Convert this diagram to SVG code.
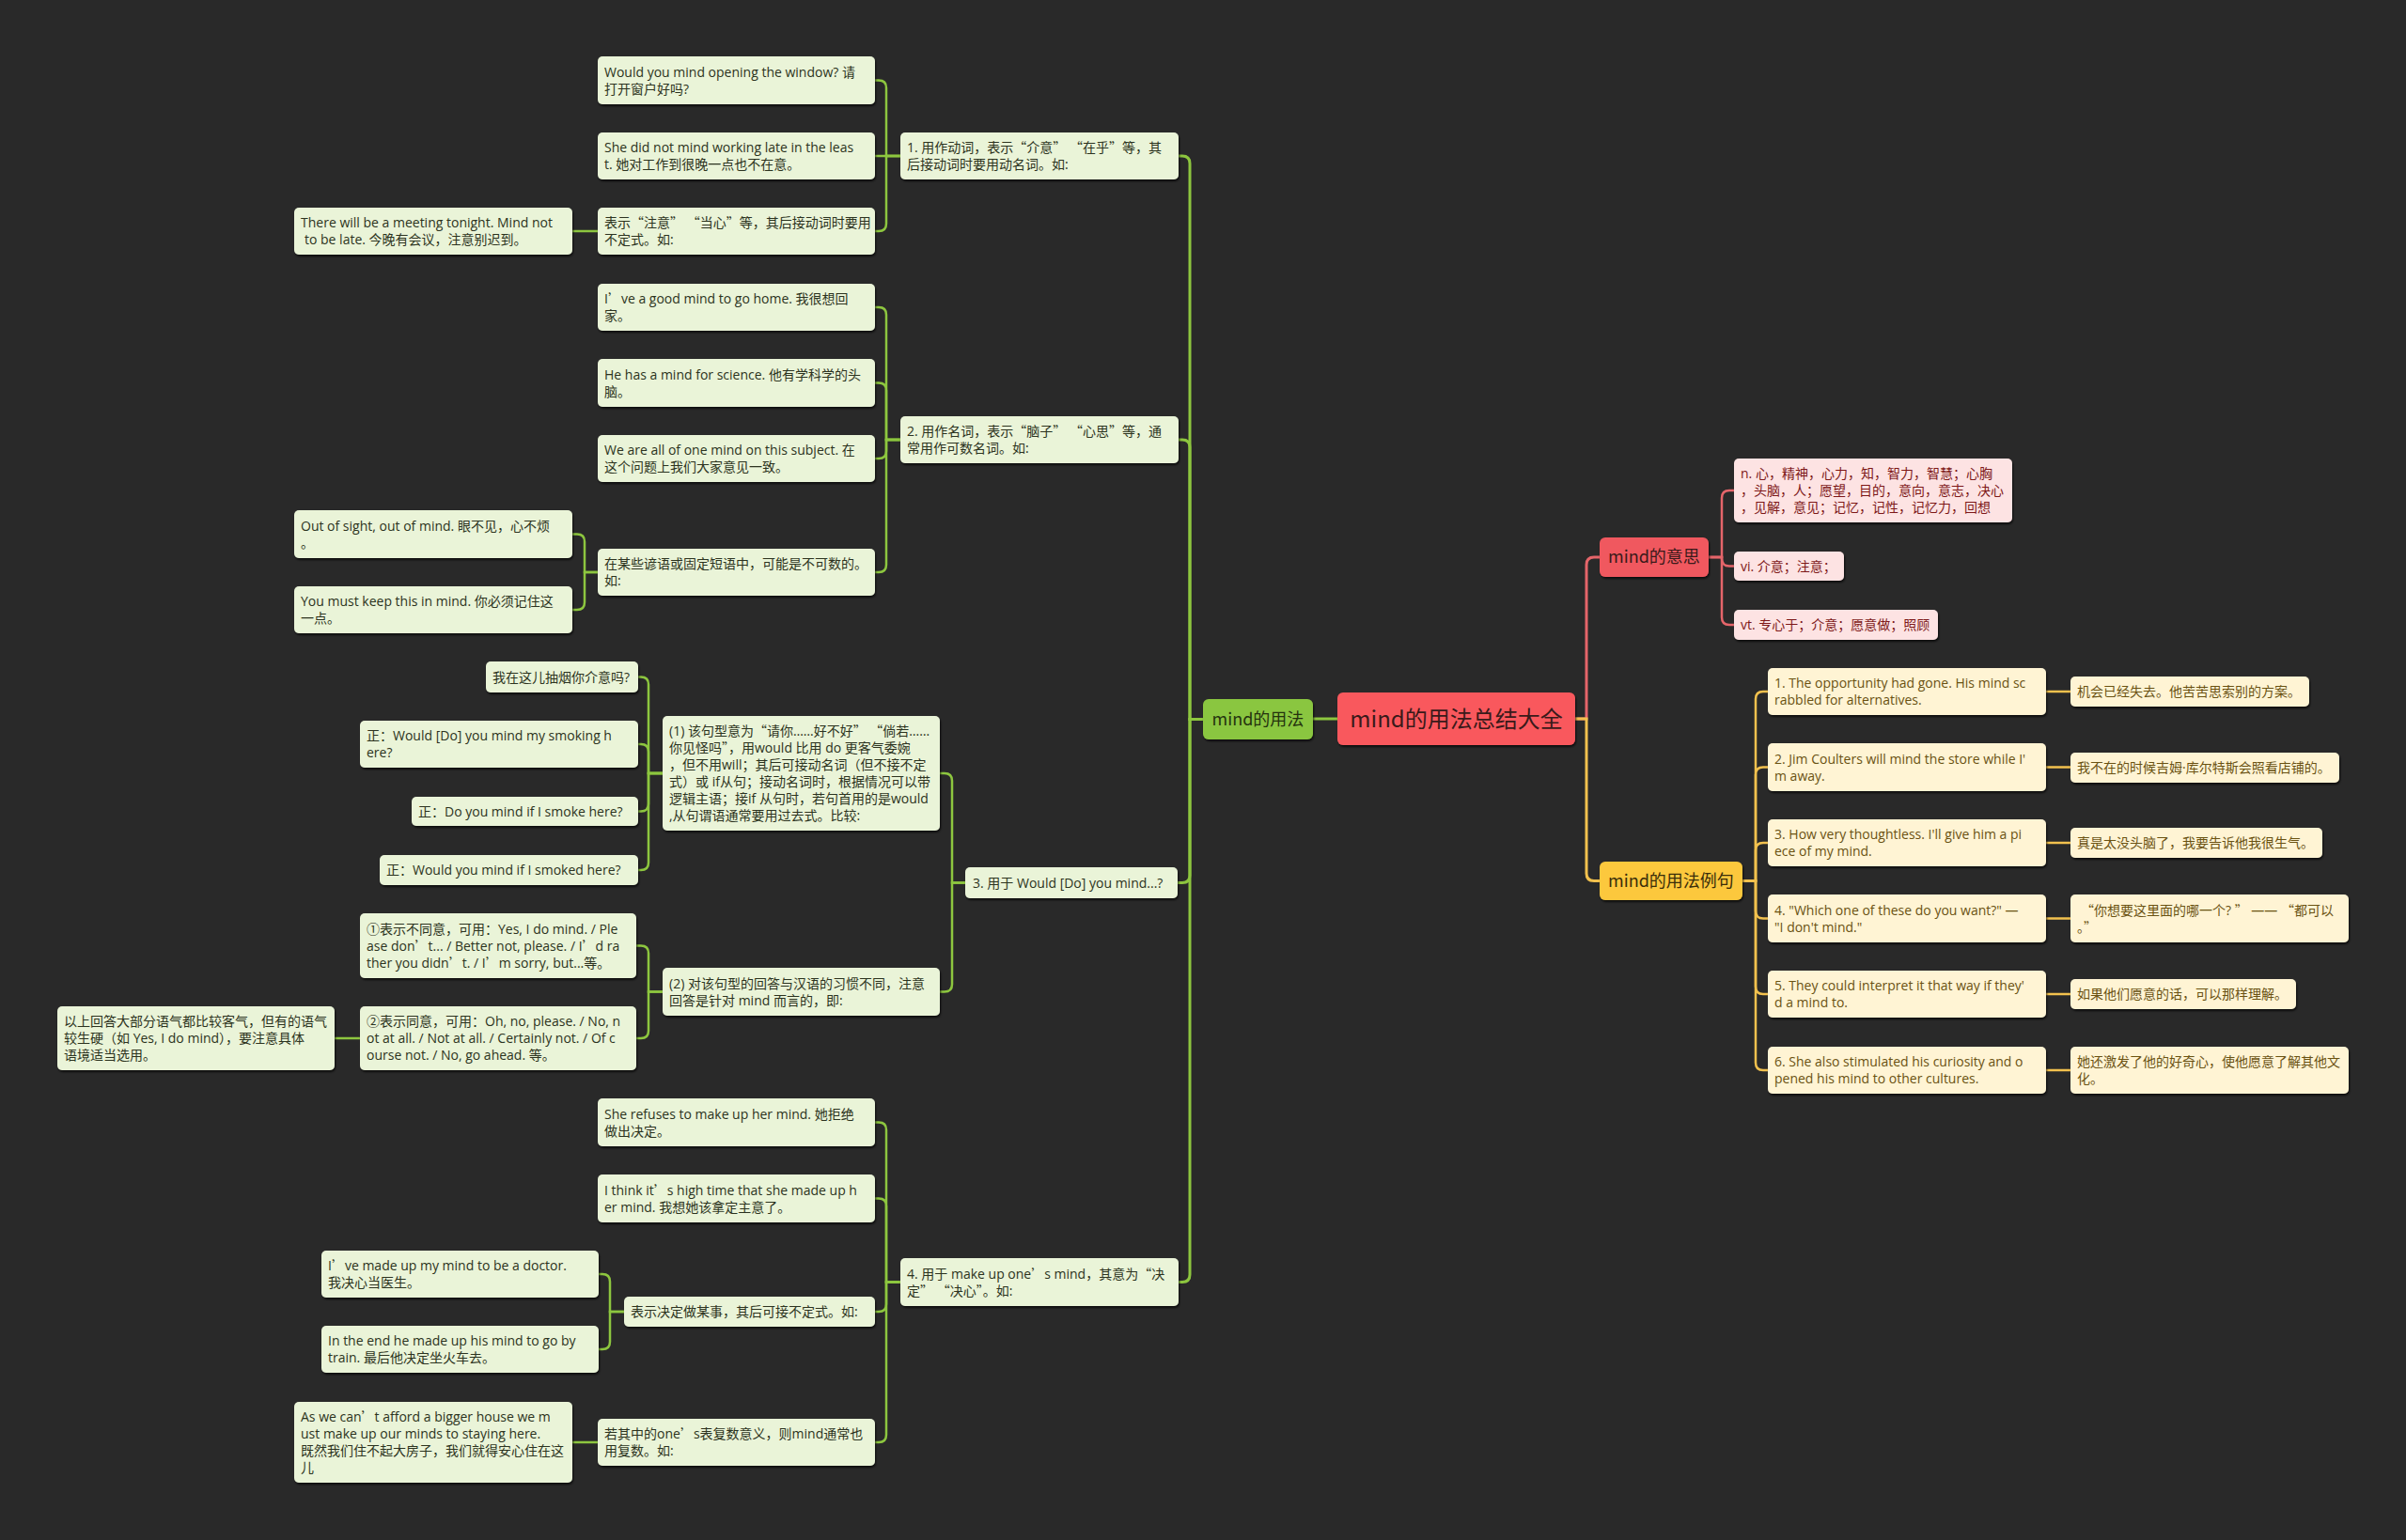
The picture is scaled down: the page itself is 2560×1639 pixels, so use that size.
<svg xmlns="http://www.w3.org/2000/svg" width="2560" height="1639" viewBox="0 0 2560 1639">
<defs>
<filter id="sh" x="-5%" y="-10%" width="110%" height="130%">
<feDropShadow dx="1" dy="2" stdDeviation="1" flood-color="#000" flood-opacity="0.7"/>
</filter>
<style>
text{font-family:"Open Sans","Noto Sans CJK SC",sans-serif;font-size:14px}
.q{font-family:"Noto Sans CJK SC",sans-serif}
.lg rect{fill:#eaf4d8;filter:url(#sh)}
.lg text{fill:#2c3320}
.pk rect{fill:#fde3e3;filter:url(#sh)}
.pk text{fill:#7d1818}
.yl rect{fill:#fff4d4;filter:url(#sh)}
.yl text{fill:#6a5212}
.big text{font-family:"Noto Sans CJK SC",sans-serif}
#center rect{fill:#f9585d;filter:url(#sh)}
#center text{fill:#3a1a1a;font-size:24px}
#usage rect{fill:#8ac641;filter:url(#sh)}
#usage text{fill:#25330e;font-size:18px}
#meaning rect{fill:#f0585e;filter:url(#sh)}
#meaning text{fill:#3a1a1a;font-size:18px}
#examples rect{fill:#fcc83d;filter:url(#sh)}
#examples text{fill:#3a2e0a;font-size:18px}
.g{stroke:#8dc63f;fill:none;stroke-width:2.5}
.r{stroke:#e5656a;fill:none;stroke-width:2.5}
.y{stroke:#f2c14e;fill:none;stroke-width:2.5}
.m{stroke-width:3}
</style>
</defs>
<rect width="2560" height="1639" fill="#292929"/>

<g id="connectors">
<path class="g m" d="M1423,765 H1397"/>
<path class="g m" d="M1280,765.5 H1266 V174 Q1266,166 1258,166 H1254"/>
<path class="g m" d="M1280,765.5 H1266 V476 Q1266,468 1258,468 H1254"/>
<path class="g m" d="M1280,765.5 H1266 V931.5 Q1266,939.5 1258,939.5 H1253"/>
<path class="g m" d="M1280,765.5 H1266 V1356.5 Q1266,1364.5 1258,1364.5 H1254"/>

<path class="g" d="M958,166 H943 V93.5 Q943,85.5 935,85.5 H931"/>
<path class="g" d="M958,166 H931"/>
<path class="g" d="M958,166 H943 V238 Q943,246 935,246 H931"/>
<path class="g" d="M636,246 H609"/>

<path class="g" d="M958,468 H943 V335 Q943,327 935,327 H931"/>
<path class="g" d="M958,468 H943 V415.5 Q943,407.5 935,407.5 H931"/>
<path class="g" d="M958,468 H943 V480 Q943,488 935,488 H931"/>
<path class="g" d="M958,468 H943 V601 Q943,609 935,609 H931"/>
<path class="g" d="M636,609 H622 V576.5 Q622,568.5 614,568.5 H609"/>
<path class="g" d="M636,609 H622 V641 Q622,649 614,649 H609"/>

<path class="g" d="M1027,939.5 H1013 V831 Q1013,823 1005,823 H1000"/>
<path class="g" d="M1027,939.5 H1013 V1047.5 Q1013,1055.5 1005,1055.5 H1000"/>
<path class="g" d="M705,823 H690 V728.5 Q690,720.5 682,720.5 H679"/>
<path class="g" d="M705,823 H690 V800 Q690,792 682,792 H679"/>
<path class="g" d="M705,823 H690 V855.5 Q690,863.5 682,863.5 H679"/>
<path class="g" d="M705,823 H690 V918 Q690,926 682,926 H679"/>
<path class="g" d="M705,1055.5 H690 V1014.5 Q690,1006.5 682,1006.5 H677"/>
<path class="g" d="M705,1055.5 H690 V1097 Q690,1105 682,1105 H677"/>
<path class="g" d="M383,1105 H356"/>

<path class="g" d="M958,1364.5 H943 V1202.5 Q943,1194.5 935,1194.5 H931"/>
<path class="g" d="M958,1364.5 H943 V1283.5 Q943,1275.5 935,1275.5 H931"/>
<path class="g" d="M958,1364.5 H943 V1388 Q943,1396 935,1396 H931"/>
<path class="g" d="M958,1364.5 H943 V1527 Q943,1535 935,1535 H931"/>
<path class="g" d="M664,1396 H649 V1364 Q649,1356 641,1356 H637"/>
<path class="g" d="M664,1396 H649 V1428 Q649,1436 641,1436 H637"/>
<path class="g" d="M636,1535 H609"/>

<path class="r m" d="M1676,765 H1688 V601 Q1688,593 1696,593 H1702"/>
<path class="y m" d="M1676,765 H1688 V929.5 Q1688,937.5 1696,937.5 H1702"/>
<path class="r" d="M1818,593 H1832 V530 Q1832,522 1840,522 H1845"/>
<path class="r" d="M1818,593 H1832 V594.5 Q1832,602.5 1840,602.5 H1845"/>
<path class="r" d="M1818,593 H1832 V657 Q1832,665 1840,665 H1845"/>

<path class="y" d="M1854,937.5 H1868 V744 Q1868,736 1876,736 H1881"/>
<path class="y" d="M1854,937.5 H1868 V824.5 Q1868,816.5 1876,816.5 H1881"/>
<path class="y" d="M1854,937.5 H1868 V905 Q1868,897 1876,897 H1881"/>
<path class="y" d="M1854,937.5 H1868 V969.5 Q1868,977.5 1876,977.5 H1881"/>
<path class="y" d="M1854,937.5 H1868 V1050 Q1868,1058 1876,1058 H1881"/>
<path class="y" d="M1854,937.5 H1868 V1131 Q1868,1139 1876,1139 H1881"/>
<path class="y" d="M2177,736 H2203"/>
<path class="y" d="M2177,816.5 H2203"/>
<path class="y" d="M2177,897 H2203"/>
<path class="y" d="M2177,977.5 H2203"/>
<path class="y" d="M2177,1058 H2203"/>
<path class="y" d="M2177,1139 H2203"/>
</g>

<g id="center" class="big"><rect x="1423" y="737" width="253" height="56" rx="6"/><text x="1549.5" y="773.5" text-anchor="middle">mind的用法总结大全</text></g>
<g id="usage" class="big"><rect x="1280" y="744" width="117" height="43" rx="6"/><text x="1338.5" y="771.5" text-anchor="middle">mind的用法</text></g>
<g id="meaning" class="big"><rect x="1702" y="572" width="116" height="42" rx="6"/><text x="1760" y="599" text-anchor="middle">mind的意思</text></g>
<g id="examples" class="big"><rect x="1702" y="917" width="152" height="41" rx="6"/><text x="1778" y="943.5" text-anchor="middle">mind的用法例句</text></g>

<g id="n1" class="lg"><rect x="958" y="141" width="296" height="50" rx="5"/><text><tspan x="965" y="162">1. 用作动词，表示<tspan class="q">“</tspan>介意<tspan class="q">”</tspan> <tspan class="q">“</tspan>在乎<tspan class="q">”</tspan>等，其</tspan><tspan x="965" y="180">后接动词时要用动名词。如:</tspan></text></g>
<g id="n1a" class="lg"><rect x="636" y="60" width="295" height="51" rx="5"/><text><tspan x="643" y="81.5">Would you mind opening the window? 请</tspan><tspan x="643" y="99.5">打开窗户好吗?</tspan></text></g>
<g id="n1b" class="lg"><rect x="636" y="141" width="295" height="50" rx="5"/><text><tspan x="643" y="162">She did not mind working late in the leas</tspan><tspan x="643" y="180">t. 她对工作到很晚一点也不在意。</tspan></text></g>
<g id="n1c" class="lg"><rect x="636" y="221" width="295" height="50" rx="5"/><text><tspan x="643" y="242">表示<tspan class="q">“</tspan>注意<tspan class="q">”</tspan> <tspan class="q">“</tspan>当心<tspan class="q">”</tspan>等，其后接动词时要用</tspan><tspan x="643" y="260">不定式。如:</tspan></text></g>
<g id="n1c1" class="lg"><rect x="313" y="221" width="296" height="50" rx="5"/><text><tspan x="320" y="242">There will be a meeting tonight. Mind not</tspan><tspan x="324" y="260">to be late. 今晚有会议，注意别迟到。</tspan></text></g>

<g id="n2" class="lg"><rect x="958" y="443" width="296" height="50" rx="5"/><text><tspan x="965" y="464">2. 用作名词，表示<tspan class="q">“</tspan>脑子<tspan class="q">”</tspan> <tspan class="q">“</tspan>心思<tspan class="q">”</tspan>等，通</tspan><tspan x="965" y="482">常用作可数名词。如:</tspan></text></g>
<g id="n2a" class="lg"><rect x="636" y="302" width="295" height="50" rx="5"/><text><tspan x="643" y="323">I<tspan class="q">’</tspan>ve a good mind to go home. 我很想回</tspan><tspan x="643" y="341">家。</tspan></text></g>
<g id="n2b" class="lg"><rect x="636" y="382" width="295" height="51" rx="5"/><text><tspan x="643" y="403.5">He has a mind for science. 他有学科学的头</tspan><tspan x="643" y="421.5">脑。</tspan></text></g>
<g id="n2c" class="lg"><rect x="636" y="463" width="295" height="50" rx="5"/><text><tspan x="643" y="484">We are all of one mind on this subject. 在</tspan><tspan x="643" y="502">这个问题上我们大家意见一致。</tspan></text></g>
<g id="n2d" class="lg"><rect x="636" y="584" width="295" height="50" rx="5"/><text><tspan x="643" y="605">在某些谚语或固定短语中，可能是不可数的。</tspan><tspan x="643" y="623">如:</tspan></text></g>
<g id="n2d1" class="lg"><rect x="313" y="543" width="296" height="51" rx="5"/><text><tspan x="320" y="564.5">Out of sight, out of mind. 眼不见，心不烦</tspan><tspan x="320" y="582.5">。</tspan></text></g>
<g id="n2d2" class="lg"><rect x="313" y="624" width="296" height="50" rx="5"/><text><tspan x="320" y="645">You must keep this in mind. 你必须记住这</tspan><tspan x="320" y="663">一点。</tspan></text></g>

<g id="n3" class="lg"><rect x="1027" y="923" width="226" height="33" rx="5"/><text x="1035" y="944.5">3. 用于 Would [Do] you mind...?</text></g>
<g id="n3a" class="lg"><rect x="705" y="762" width="295" height="122" rx="5"/><text><tspan x="712" y="783">(1) 该句型意为<tspan class="q">“</tspan>请你……好不好<tspan class="q">”</tspan> <tspan class="q">“</tspan>倘若……</tspan><tspan x="712" y="801">你见怪吗<tspan class="q">”</tspan>，用would 比用 do 更客气委婉</tspan><tspan x="712" y="819">，但不用will；其后可接动名词（但不接不定</tspan><tspan x="712" y="837">式）或 if从句；接动名词时，根据情况可以带</tspan><tspan x="712" y="855">逻辑主语；接if 从句时，若句首用的是would</tspan><tspan x="712" y="873">,从句谓语通常要用过去式。比较:</tspan></text></g>
<g id="n3a1" class="lg"><rect x="517" y="704" width="162" height="33" rx="5"/><text x="524" y="725.5">我在这儿抽烟你介意吗?</text></g>
<g id="n3a2" class="lg"><rect x="383" y="767" width="296" height="50" rx="5"/><text><tspan x="390" y="788">正：Would [Do] you mind my smoking h</tspan><tspan x="390" y="806">ere?</tspan></text></g>
<g id="n3a3" class="lg"><rect x="438" y="848" width="241" height="31" rx="5"/><text x="445" y="868.5">正：Do you mind if I smoke here?</text></g>
<g id="n3a4" class="lg"><rect x="404" y="910" width="275" height="32" rx="5"/><text x="411" y="931">正：Would you mind if I smoked here?</text></g>
<g id="n3b" class="lg"><rect x="705" y="1030" width="295" height="51" rx="5"/><text><tspan x="712" y="1051.5">(2) 对该句型的回答与汉语的习惯不同，注意</tspan><tspan x="712" y="1069.5">回答是针对 mind 而言的，即:</tspan></text></g>
<g id="n3b1" class="lg"><rect x="383" y="972" width="294" height="69" rx="5"/><text><tspan x="390" y="993.5">①表示不同意，可用：Yes, I do mind. / Ple</tspan><tspan x="390" y="1011.5">ase don<tspan class="q">’</tspan>t... / Better not, please. / I<tspan class="q">’</tspan>d ra</tspan><tspan x="390" y="1029.5">ther you didn<tspan class="q">’</tspan>t. / I<tspan class="q">’</tspan>m sorry, but...等。</tspan></text></g>
<g id="n3b2" class="lg"><rect x="383" y="1071" width="294" height="68" rx="5"/><text><tspan x="390" y="1092">②表示同意，可用：Oh, no, please. / No, n</tspan><tspan x="390" y="1110">ot at all. / Not at all. / Certainly not. / Of c</tspan><tspan x="390" y="1128">ourse not. / No, go ahead. 等。</tspan></text></g>
<g id="n3b2a" class="lg"><rect x="61" y="1071" width="295" height="68" rx="5"/><text><tspan x="68" y="1092">以上回答大部分语气都比较客气，但有的语气</tspan><tspan x="68" y="1110">较生硬（如 Yes, I do mind），要注意具体</tspan><tspan x="68" y="1128">语境适当选用。</tspan></text></g>

<g id="n4" class="lg"><rect x="958" y="1339" width="296" height="51" rx="5"/><text><tspan x="965" y="1360.5">4. 用于 make up one<tspan class="q">’</tspan>s mind，其意为<tspan class="q">“</tspan>决</tspan><tspan x="965" y="1378.5">定<tspan class="q">”</tspan> <tspan class="q">“</tspan>决心<tspan class="q">”</tspan>。如:</tspan></text></g>
<g id="n4a" class="lg"><rect x="636" y="1169" width="295" height="51" rx="5"/><text><tspan x="643" y="1190.5">She refuses to make up her mind. 她拒绝</tspan><tspan x="643" y="1208.5">做出决定。</tspan></text></g>
<g id="n4b" class="lg"><rect x="636" y="1250" width="295" height="51" rx="5"/><text><tspan x="643" y="1271.5">I think it<tspan class="q">’</tspan>s high time that she made up h</tspan><tspan x="643" y="1289.5">er mind. 我想她该拿定主意了。</tspan></text></g>
<g id="n4c" class="lg"><rect x="664" y="1380" width="267" height="32" rx="5"/><text x="671" y="1401">表示决定做某事，其后可接不定式。如:</text></g>
<g id="n4c1" class="lg"><rect x="342" y="1331" width="295" height="50" rx="5"/><text><tspan x="349" y="1352">I<tspan class="q">’</tspan>ve made up my mind to be a doctor.</tspan><tspan x="349" y="1370">我决心当医生。</tspan></text></g>
<g id="n4c2" class="lg"><rect x="342" y="1411" width="295" height="50" rx="5"/><text><tspan x="349" y="1432">In the end he made up his mind to go by</tspan><tspan x="349" y="1450">train. 最后他决定坐火车去。</tspan></text></g>
<g id="n4d" class="lg"><rect x="636" y="1510" width="295" height="50" rx="5"/><text><tspan x="643" y="1531">若其中的one<tspan class="q">’</tspan>s表复数意义，则mind通常也</tspan><tspan x="643" y="1549">用复数。如:</tspan></text></g>
<g id="n4d1" class="lg"><rect x="313" y="1492" width="296" height="86" rx="5"/><text><tspan x="320" y="1513">As we can<tspan class="q">’</tspan>t afford a bigger house we m</tspan><tspan x="320" y="1531">ust make up our minds to staying here.</tspan><tspan x="320" y="1549">既然我们住不起大房子，我们就得安心住在这</tspan><tspan x="320" y="1567">儿</tspan></text></g>

<g id="r1a" class="pk"><rect x="1845" y="488" width="296" height="68" rx="5"/><text><tspan x="1852" y="509">n. 心，精神，心力，知，智力，智慧；心胸</tspan><tspan x="1852" y="527">，头脑，人；愿望，目的，意向，意志，决心</tspan><tspan x="1852" y="545">，见解，意见；记忆，记性，记忆力，回想</tspan></text></g>
<g id="r1b" class="pk"><rect x="1845" y="587" width="117" height="31" rx="5"/><text x="1852" y="607.5">vi. 介意；注意；</text></g>
<g id="r1c" class="pk"><rect x="1845" y="649" width="217" height="32" rx="5"/><text x="1852" y="670">vt. 专心于；介意；愿意做；照顾</text></g>

<g id="y1" class="yl"><rect x="1881" y="711" width="296" height="50" rx="5"/><text><tspan x="1888" y="732">1. The opportunity had gone. His mind sc</tspan><tspan x="1888" y="750">rabbled for alternatives.</tspan></text></g>
<g id="y1t" class="yl"><rect x="2203" y="720" width="254" height="32" rx="5"/><text x="2210" y="741">机会已经失去。他苦苦思索别的方案。</text></g>
<g id="y2" class="yl"><rect x="1881" y="791" width="296" height="51" rx="5"/><text><tspan x="1888" y="812.5">2. Jim Coulters will mind the store while I'</tspan><tspan x="1888" y="830.5">m away.</tspan></text></g>
<g id="y2t" class="yl"><rect x="2203" y="801" width="286" height="32" rx="5"/><text x="2210" y="822">我不在的时候吉姆·库尔特斯会照看店铺的。</text></g>
<g id="y3" class="yl"><rect x="1881" y="872" width="296" height="50" rx="5"/><text><tspan x="1888" y="893">3. How very thoughtless. I'll give him a pi</tspan><tspan x="1888" y="911">ece of my mind.</tspan></text></g>
<g id="y3t" class="yl"><rect x="2203" y="881" width="268" height="32" rx="5"/><text x="2210" y="902">真是太没头脑了，我要告诉他我很生气。</text></g>
<g id="y4" class="yl"><rect x="1881" y="952" width="296" height="51" rx="5"/><text><tspan x="1888" y="973.5">4. "Which one of these do you want?" —</tspan><tspan x="1888" y="991.5">"I don't mind."</tspan></text></g>
<g id="y4t" class="yl"><rect x="2203" y="952" width="296" height="51" rx="5"/><text><tspan x="2214" y="973.5"><tspan class="q">“</tspan>你想要这里面的哪一个? <tspan class="q">”</tspan> —— <tspan class="q">“</tspan>都可以</tspan><tspan x="2210" y="991.5">。<tspan class="q">”</tspan></tspan></text></g>
<g id="y5" class="yl"><rect x="1881" y="1033" width="296" height="50" rx="5"/><text><tspan x="1888" y="1054">5. They could interpret it that way if they'</tspan><tspan x="1888" y="1072">d a mind to.</tspan></text></g>
<g id="y5t" class="yl"><rect x="2203" y="1042" width="240" height="32" rx="5"/><text x="2210" y="1063">如果他们愿意的话，可以那样理解。</text></g>
<g id="y6" class="yl"><rect x="1881" y="1114" width="296" height="50" rx="5"/><text><tspan x="1888" y="1135">6. She also stimulated his curiosity and o</tspan><tspan x="1888" y="1153">pened his mind to other cultures.</tspan></text></g>
<g id="y6t" class="yl"><rect x="2203" y="1114" width="296" height="50" rx="5"/><text><tspan x="2210" y="1135">她还激发了他的好奇心，使他愿意了解其他文</tspan><tspan x="2210" y="1153">化。</tspan></text></g>
</svg>
